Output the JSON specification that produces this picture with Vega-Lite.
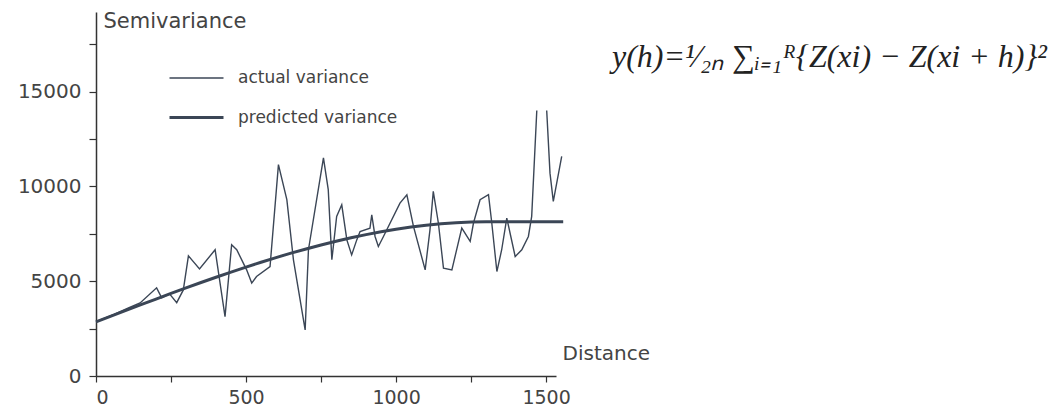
{
  "$schema": "https://vega.github.io/schema/vega-lite/v6.json",
  "autosize": {"type": "none"},
  "padding": {"left": 96, "top": 12, "right": 508, "bottom": 38},
  "width": 460,
  "height": 364,
  "background": "white",
  "config": {"view": {"stroke": null}, "font": "DejaVu Sans"},
  "title": {
    "text": "y(h)=¹⁄₂ₙ ∑ᵢ₌₁ᴿ{Z(xi) − Z(xi + h)}²",
    "anchor": "start",
    "frame": "group",
    "orient": "top",
    "dx": 516,
    "dy": 93,
    "font": "Liberation Serif",
    "fontSize": 32,
    "fontWeight": "normal",
    "fontStyle": "italic",
    "color": "#222222",
    "baseline": "alphabetic"
  },
  "data": {
    "values": [
      {"series": "actual variance", "distance": 0, "semivariance": 2870},
      {"series": "actual variance", "distance": 60, "semivariance": 3250},
      {"series": "actual variance", "distance": 110, "semivariance": 3600},
      {"series": "actual variance", "distance": 147, "semivariance": 3850},
      {"series": "actual variance", "distance": 202, "semivariance": 4650},
      {"series": "actual variance", "distance": 219, "semivariance": 4120},
      {"series": "actual variance", "distance": 245, "semivariance": 4330},
      {"series": "actual variance", "distance": 269, "semivariance": 3870},
      {"series": "actual variance", "distance": 291, "semivariance": 4540},
      {"series": "actual variance", "distance": 308, "semivariance": 6340},
      {"series": "actual variance", "distance": 345, "semivariance": 5650},
      {"series": "actual variance", "distance": 397, "semivariance": 6660},
      {"series": "actual variance", "distance": 430, "semivariance": 3130},
      {"series": "actual variance", "distance": 452, "semivariance": 6920},
      {"series": "actual variance", "distance": 469, "semivariance": 6660},
      {"series": "actual variance", "distance": 502, "semivariance": 5600},
      {"series": "actual variance", "distance": 519, "semivariance": 4900},
      {"series": "actual variance", "distance": 535, "semivariance": 5250},
      {"series": "actual variance", "distance": 580, "semivariance": 5770},
      {"series": "actual variance", "distance": 608, "semivariance": 11150},
      {"series": "actual variance", "distance": 636, "semivariance": 9300},
      {"series": "actual variance", "distance": 658, "semivariance": 6130},
      {"series": "actual variance", "distance": 697, "semivariance": 2430},
      {"series": "actual variance", "distance": 708, "semivariance": 6660},
      {"series": "actual variance", "distance": 758, "semivariance": 11500},
      {"series": "actual variance", "distance": 774, "semivariance": 9830},
      {"series": "actual variance", "distance": 786, "semivariance": 6130},
      {"series": "actual variance", "distance": 802, "semivariance": 8420},
      {"series": "actual variance", "distance": 819, "semivariance": 9030},
      {"series": "actual variance", "distance": 836, "semivariance": 7180},
      {"series": "actual variance", "distance": 852, "semivariance": 6390},
      {"series": "actual variance", "distance": 869, "semivariance": 7180},
      {"series": "actual variance", "distance": 880, "semivariance": 7620},
      {"series": "actual variance", "distance": 913, "semivariance": 7800},
      {"series": "actual variance", "distance": 919, "semivariance": 8500},
      {"series": "actual variance", "distance": 930, "semivariance": 7360},
      {"series": "actual variance", "distance": 941, "semivariance": 6830},
      {"series": "actual variance", "distance": 958, "semivariance": 7360},
      {"series": "actual variance", "distance": 1013, "semivariance": 9120},
      {"series": "actual variance", "distance": 1036, "semivariance": 9560},
      {"series": "actual variance", "distance": 1058, "semivariance": 7890},
      {"series": "actual variance", "distance": 1097, "semivariance": 5600},
      {"series": "actual variance", "distance": 1113, "semivariance": 7710},
      {"series": "actual variance", "distance": 1124, "semivariance": 9740},
      {"series": "actual variance", "distance": 1141, "semivariance": 8070},
      {"series": "actual variance", "distance": 1158, "semivariance": 5690},
      {"series": "actual variance", "distance": 1186, "semivariance": 5600},
      {"series": "actual variance", "distance": 1219, "semivariance": 7800},
      {"series": "actual variance", "distance": 1247, "semivariance": 7100},
      {"series": "actual variance", "distance": 1258, "semivariance": 8070},
      {"series": "actual variance", "distance": 1280, "semivariance": 9300},
      {"series": "actual variance", "distance": 1308, "semivariance": 9560},
      {"series": "actual variance", "distance": 1319, "semivariance": 8070},
      {"series": "actual variance", "distance": 1336, "semivariance": 5510},
      {"series": "actual variance", "distance": 1352, "semivariance": 6660},
      {"series": "actual variance", "distance": 1369, "semivariance": 8330},
      {"series": "actual variance", "distance": 1397, "semivariance": 6300},
      {"series": "actual variance", "distance": 1419, "semivariance": 6660},
      {"series": "actual variance", "distance": 1441, "semivariance": 7360},
      {"series": "actual variance", "distance": 1452, "semivariance": 8420},
      {"series": "actual variance", "distance": 1469, "semivariance": 14000},
      {"series": "actual variance", "distance": 1485, "semivariance": null},
      {"series": "actual variance", "distance": 1502, "semivariance": 14000},
      {"series": "actual variance", "distance": 1513, "semivariance": 10700},
      {"series": "actual variance", "distance": 1524, "semivariance": 9210},
      {"series": "actual variance", "distance": 1552, "semivariance": 11580},
      {"series": "predicted variance", "distance": 0, "semivariance": 2850},
      {"series": "predicted variance", "distance": 50, "semivariance": 3155},
      {"series": "predicted variance", "distance": 100, "semivariance": 3458},
      {"series": "predicted variance", "distance": 150, "semivariance": 3760},
      {"series": "predicted variance", "distance": 200, "semivariance": 4059},
      {"series": "predicted variance", "distance": 250, "semivariance": 4354},
      {"series": "predicted variance", "distance": 300, "semivariance": 4645},
      {"series": "predicted variance", "distance": 350, "semivariance": 4931},
      {"series": "predicted variance", "distance": 400, "semivariance": 5210},
      {"series": "predicted variance", "distance": 450, "semivariance": 5482},
      {"series": "predicted variance", "distance": 500, "semivariance": 5745},
      {"series": "predicted variance", "distance": 550, "semivariance": 6001},
      {"series": "predicted variance", "distance": 600, "semivariance": 6246},
      {"series": "predicted variance", "distance": 650, "semivariance": 6480},
      {"series": "predicted variance", "distance": 700, "semivariance": 6702},
      {"series": "predicted variance", "distance": 750, "semivariance": 6912},
      {"series": "predicted variance", "distance": 800, "semivariance": 7109},
      {"series": "predicted variance", "distance": 850, "semivariance": 7291},
      {"series": "predicted variance", "distance": 900, "semivariance": 7457},
      {"series": "predicted variance", "distance": 950, "semivariance": 7607},
      {"series": "predicted variance", "distance": 1000, "semivariance": 7740},
      {"series": "predicted variance", "distance": 1050, "semivariance": 7856},
      {"series": "predicted variance", "distance": 1100, "semivariance": 7952},
      {"series": "predicted variance", "distance": 1150, "semivariance": 8029},
      {"series": "predicted variance", "distance": 1200, "semivariance": 8084},
      {"series": "predicted variance", "distance": 1250, "semivariance": 8118},
      {"series": "predicted variance", "distance": 1300, "semivariance": 8130},
      {"series": "predicted variance", "distance": 1400, "semivariance": 8130},
      {"series": "predicted variance", "distance": 1557, "semivariance": 8130}
    ]
  },
  "mark": {"type": "line", "invalid": "break-paths-show-domains", "color": "#3b4656"},
  "encoding": {
    "x": {
      "field": "distance",
      "type": "quantitative",
      "scale": {"domain": [0, 1533], "nice": false, "zero": true},
      "axis": {
        "values": [0, 250, 500, 750, 1000, 1250, 1500],
        "format": "d",
        "labelExpr": "datum.value % 500 === 0 ? datum.label : ''",
        "grid": false,
        "domainColor": "#333333",
        "domainWidth": 1.5,
        "tickColor": "#333333",
        "tickWidth": 1.2,
        "tickSize": 6,
        "labelPadding": 6,
        "labelFontSize": 19,
        "labelColor": "#444444",
        "labelFont": "DejaVu Sans",
        "title": "Distance",
        "titleFont": "DejaVu Sans",
        "titleFontSize": 20,
        "titleFontWeight": "normal",
        "titleColor": "#444444",
        "titleAlign": "left",
        "titleBaseline": "alphabetic",
        "titleAnchor": null,
        "titleX": 466,
        "titleY": -17
      }
    },
    "y": {
      "field": "semivariance",
      "type": "quantitative",
      "scale": {"domain": [0, 19200], "nice": false},
      "axis": {
        "values": [0, 2500, 5000, 7500, 10000, 12500, 15000, 17500],
        "format": "d",
        "labelExpr": "datum.value % 5000 === 0 ? datum.label : ''",
        "grid": false,
        "domainColor": "#333333",
        "domainWidth": 1.5,
        "tickColor": "#333333",
        "tickWidth": 1.2,
        "tickSize": 7,
        "labelPadding": 8,
        "labelFontSize": 20,
        "labelColor": "#444444",
        "labelFont": "DejaVu Sans",
        "title": "Semivariance",
        "titleFont": "DejaVu Sans",
        "titleFontSize": 21,
        "titleFontWeight": "normal",
        "titleColor": "#444444",
        "titleAngle": 0,
        "titleAlign": "left",
        "titleBaseline": "alphabetic",
        "titleAnchor": null,
        "titleX": 7,
        "titleY": 15
      }
    },
    "strokeWidth": {
      "field": "series",
      "type": "ordinal",
      "scale": {"domain": ["actual variance", "predicted variance"], "range": [1.4, 3]},
      "legend": {
        "orient": "none",
        "legendX": 90,
        "legendY": 56,
        "title": null,
        "padding": 0,
        "symbolType": "M-3,0H3",
        "symbolSize": 324,
        "symbolStrokeColor": "#3b4656",
        "symbolFillColor": "transparent",
        "labelFont": "DejaVu Sans",
        "labelFontSize": 17,
        "labelColor": "#444444",
        "labelOffset": 31,
        "rowPadding": 21
      }
    }
  }
}
